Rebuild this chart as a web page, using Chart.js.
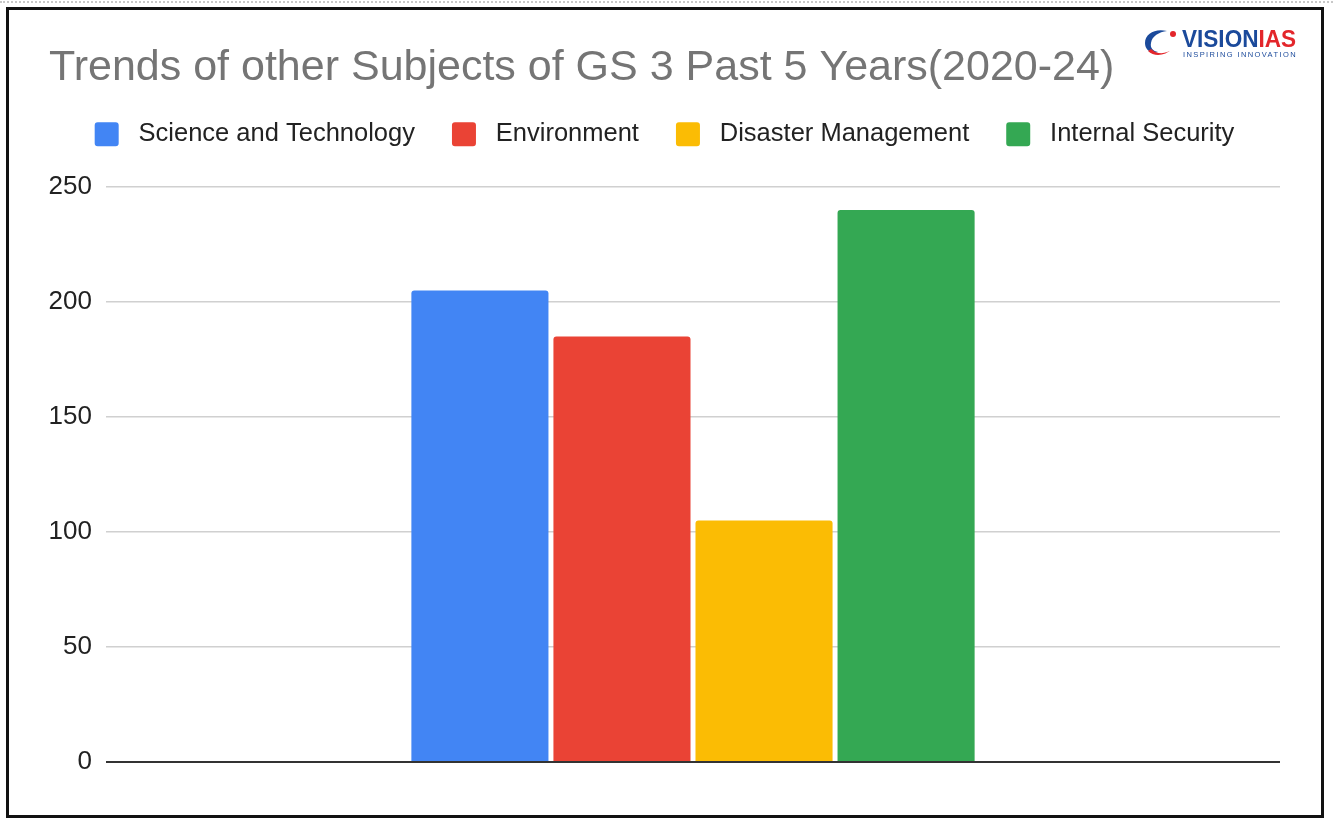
<!DOCTYPE html>
<html>
<head>
<meta charset="utf-8">
<script src="https://cdn.jsdelivr.net/npm/chart.js@4/dist/chart.umd.min.js"></script>
<style>
  html, body { margin: 0; padding: 0; background: #fff; }
  #wrap { position: relative; width: 1333px; height: 825px; overflow: hidden; }
  #c { position: absolute; left: 0; top: 0; }
  #dots { position: absolute; left: 0; top: 1px; width: 1333px; border-top: 2px dotted #c8c8c8; }
  #frame { position: absolute; left: 6px; top: 7px; width: 1312px; height: 805px; border: 3px solid #111; pointer-events: none; }
  #logo { position: absolute; left: 1142px; top: 26px; width: 160px; height: 36px; }
  #logo .name { position: absolute; left: 40px; top: 1px; font-family: "Liberation Sans", Arial, sans-serif; font-weight: bold; font-size: 24px; line-height: 24px; color: #1b4a9b; transform: scaleX(0.94); transform-origin: left top; white-space: nowrap; }
  #logo .name span { color: #e3262b; }
  #logo .tag { position: absolute; left: 41px; top: 24px; font-family: "Liberation Sans", Arial, sans-serif; font-size: 7.5px; letter-spacing: 1.4px; color: #1b4a9b; white-space: nowrap; }
</style>
</head>
<body>
<div id="wrap">
  <canvas id="c" width="1333" height="825"></canvas>
  <div id="dots"></div>
  <div id="frame"></div>
  <div id="logo">
    <svg width="38" height="32" viewBox="0 0 38 32" style="position:absolute;left:0;top:0px">
      <path d="M3 17 C3 7 14 2 25 5 C17 6 10 10 9 17 C8 22 11 25 16 26 C9 28 3 24 3 17 Z" fill="#1b4a9b"/>
      <path d="M6 25 C12 31 23 30 30 23 C25 28 15 29 9 23 Z" fill="#e3262b"/>
      <circle cx="31" cy="8" r="3" fill="#e3262b"/>
    </svg>
    <div class="name">VISION<span>IAS</span></div>
    <div class="tag">INSPIRING INNOVATION</div>
  </div>
</div>
<script>
const categories = [""];
const seriesNames = ["Science and Technology", "Environment", "Disaster Management", "Internal Security"];
const seriesValues = [[205], [185], [105], [240]];
const seriesColors = ["#4285F4", "#EA4335", "#FBBC04", "#34A853"];
const yTicks = [0, 50, 100, 150, 200, 250];
const titleText = "Trends of other Subjects of GS 3 Past 5 Years(2020-24)";

const datasets = seriesNames.map((name, i) => ({
  label: name,
  data: seriesValues[i],
  backgroundColor: seriesColors[i],
  borderColor: seriesColors[i],
  borderWidth: 0,
  borderRadius: { topLeft: 3, topRight: 3, bottomLeft: 0, bottomRight: 0 },
  borderSkipped: false,
  categoryPercentage: 0.484,
  barPercentage: 0.965
}));

const legendMargin = {
  id: 'legendMargin',
  beforeInit(chart) {
    const origFit = chart.legend.fit;
    chart.legend.fit = function () {
      origFit.call(this);
      this.height += 30;
    };
  }
};

new Chart(document.getElementById('c'), {
  type: 'bar',
  data: { labels: categories, datasets },
  plugins: [legendMargin],
  options: {
    responsive: false,
    animation: false,
    layout: { padding: { left: 49, right: 53, top: 42, bottom: 63 } },
    plugins: {
      title: {
        display: true,
        text: titleText,
        align: 'start',
        color: '#757575',
        font: { family: '"Liberation Sans", Arial, sans-serif', size: 43, weight: 'normal' },
        padding: { top: 0, bottom: -9 }
      },
      legend: {
        display: true,
        position: 'top',
        labels: {
          color: '#222',
          font: { family: '"Liberation Sans", Arial, sans-serif', size: 25.5 },
          boxWidth: 24,
          boxHeight: 24,
          useBorderRadius: true,
          borderRadius: 3,
          padding: 37,
          generateLabels: (chart) => {
            const items = Chart.defaults.plugins.legend.labels.generateLabels(chart);
            items.forEach(it => { it.text = ' ' + it.text; });
            return items;
          }
        }
      },
      tooltip: { enabled: false }
    },
    scales: {
      x: { display: false },
      y: {
        min: 0,
        max: 250,
        afterBuildTicks: (scale) => { scale.ticks = yTicks.map(v => ({ value: v })); },
        afterFit: (scale) => { scale.width = 57; },
        border: { display: false },
        grid: {
          drawTicks: false,
          color: (ctx) => ctx.tick && ctx.tick.value === 0 ? '#333' : '#d0d0d0',
          lineWidth: (ctx) => ctx.tick && ctx.tick.value === 0 ? 2 : 1.5
        },
        ticks: {
          padding: 14,
          color: '#222',
          font: { family: '"Liberation Sans", Arial, sans-serif', size: 26 }
        }
      }
    }
  }
});
</script>
</body>
</html>
